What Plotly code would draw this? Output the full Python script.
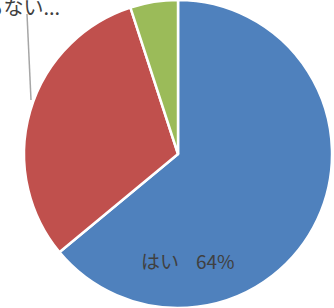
import plotly.graph_objects as go

labels = ["はい", "いいえ・どちらでもない", "その他"]
values = [64, 31, 5]
colors = ["#4F81BD", "#C0504D", "#9BBB59"]

W, H = 334, 308
font_family = "Noto Sans CJK JP, Noto Sans, sans-serif"

fig = go.Figure(go.Pie(
    labels=labels,
    values=values,
    sort=False,
    direction="clockwise",
    rotation=0,
    marker=dict(colors=colors, line=dict(color="white", width=2.5)),
    textinfo="none",
    hoverinfo="label+percent",
    domain=dict(x=[0.066, 1], y=[0, 1]),
    showlegend=False,
))

total = sum(values)
fig.add_annotation(
    x=188 / W, y=1 - 260 / H, xref="paper", yref="paper",
    text=f"{labels[0]}    {round(values[0] / total * 100)}%",
    showarrow=False, xanchor="center", yanchor="middle",
    font=dict(size=19, color="#404040", family=font_family),
)
fig.add_annotation(
    x=62 / W, y=1 - 7 / H, xref="paper", yref="paper",
    text=labels[1] + "...",
    showarrow=False, xanchor="right", yanchor="middle",
    font=dict(size=20, color="#404040", family=font_family),
)
fig.add_shape(
    type="line", xref="paper", yref="paper",
    x0=27 / W, y0=1 - 14 / H, x1=31 / W, y1=1 - 100 / H,
    line=dict(color="#A6A6A6", width=1.5),
)

fig.update_layout(
    width=W, height=H, autosize=False,
    margin=dict(l=0, r=0, t=0, b=0),
    paper_bgcolor="white", plot_bgcolor="white",
)
fig.write_html(
    "out.html",
    config={"displayModeBar": False},
    post_script="document.body.style.margin='0';document.body.style.overflow='hidden';",
)
